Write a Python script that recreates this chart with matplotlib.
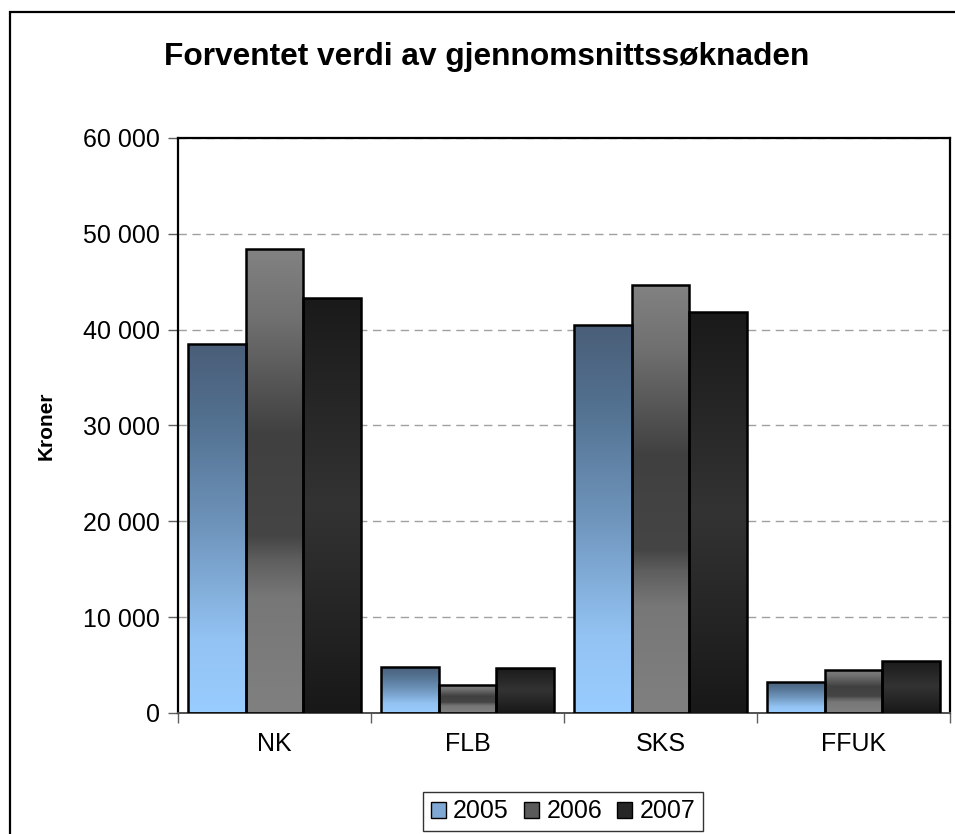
import numpy as np
import matplotlib
matplotlib.use('Agg')
import matplotlib.pyplot as plt
from matplotlib.colors import LinearSegmentedColormap
from matplotlib.patches import Rectangle, Patch

categories = ['NK', 'FLB', 'SKS', 'FFUK']
years = ['2005', '2006', '2007']
v2005 = [38500, 4800, 40450, 3250]
v2006 = [48400, 2900, 44700, 4500]
v2007 = [43300, 4700, 41800, 5450]

# gradient stops, bottom -> top
grad = {
    '2005': [(0, '#99CCFF'), (0.2, '#93C3F3'), (0.5, '#6F95BC'), (0.8, '#52708F'), (1, '#4A5E78')],
    '2006': [(0, '#808080'), (0.25, '#777777'), (0.33, '#5e5e5e'), (0.38, '#454545'),
             (0.6, '#404040'), (0.85, '#707070'), (1, '#828282')],
    '2007': [(0, '#181818'), (0.5, '#333333'), (1, '#1a1a1a')],
}
legend_col = {'2005': '#7FA8D4', '2006': '#5a5a5a', '2007': '#262626'}

plt.rcParams['font.family'] = ['Liberation Sans', 'DejaVu Sans']

fig = plt.figure(figsize=(9.55, 8.34), dpi=100)
ax = fig.add_axes([178/955, 121/834, 772/955, 575/834])

# outer chart border
fig.patches.append(Rectangle((10/955, -0.1), 1.2, 1.1 - 12/834, transform=fig.transFigure,
                             fill=False, edgecolor='black', linewidth=1.6))

x = np.arange(len(categories))
w = 0.298
gradimg = np.linspace(0, 1, 256).reshape(-1, 1)
for i, (yr, vals) in enumerate(zip(years, [v2005, v2006, v2007])):
    cmap = LinearSegmentedColormap.from_list('g' + yr, grad[yr])
    bars = ax.bar(x + (i - 1) * w, vals, w, facecolor='none', edgecolor='black',
                  linewidth=1.8, zorder=3)
    for b in bars:
        x0, y0 = b.get_x(), b.get_y()
        im = ax.imshow(gradimg, cmap=cmap, origin='lower', aspect='auto',
                       extent=[x0, x0 + b.get_width(), y0, y0 + b.get_height()], zorder=2.5)
        im.set_clip_path(b)

ax.set_xlim(-0.5, 3.5)
ax.set_ylim(0, 60000)
ax.set_yticks(range(0, 60001, 10000))
ax.set_yticklabels(['0' if v == 0 else f'{v // 1000} 000' for v in range(0, 60001, 10000)])
ax.yaxis.grid(True, linestyle=(0, (6, 4)), color='#a0a0a0', linewidth=1)
ax.set_axisbelow(True)
ax.set_xticks(x)
ax.set_xticklabels(categories)
ax.set_xticks(np.arange(-0.5, 3.6, 1), minor=True)
ax.tick_params(axis='x', which='major', length=0, pad=14, labelsize=18)
ax.tick_params(axis='x', which='minor', length=7, color='#606060', width=1)
ax.tick_params(axis='y', length=7, color='#606060', width=1, labelsize=18, pad=6)
for s in ax.spines.values():
    s.set_linewidth(1.6)
    s.set_color('black')
ax.spines['bottom'].set_color('#505050')
ax.spines['bottom'].set_linewidth(1.4)

ax.set_ylabel('Kroner', fontsize=15, fontweight='bold', labelpad=20)
fig.text(487/955, 1 - 57/834, 'Forventet verdi av gjennomsnittssøknaden', ha='center', va='center',
         fontsize=22.8, fontweight='bold')

handles = [Patch(facecolor=legend_col[y], edgecolor='black', linewidth=1) for y in years]
leg = fig.legend(handles, years, loc='upper center', bbox_to_anchor=(563/955, 1 - 792/834),
                 ncol=3, fontsize=18, frameon=True, fancybox=False, edgecolor='black',
                 handlelength=0.6, handleheight=0.6, handletextpad=0.3, columnspacing=0.6,
                 borderpad=0.3, borderaxespad=0)
leg.get_frame().set_linewidth(1)

fig.savefig('out.png', dpi=100)
